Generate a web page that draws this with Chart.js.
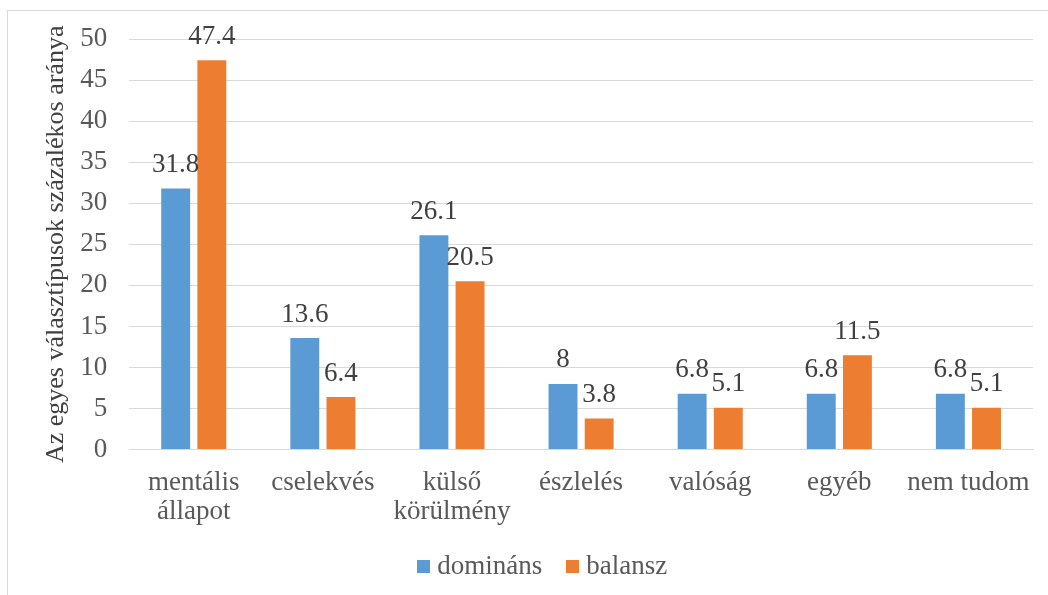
<!DOCTYPE html>
<html>
<head>
<meta charset="utf-8">
<script src="https://cdn.jsdelivr.net/npm/chart.js@4/dist/chart.umd.min.js"></script>
<style>
  html, body { margin: 0; padding: 0; background: #fff; }
  #wrap { position: relative; width: 1048px; height: 595px; }
  #frame { position: absolute; left: 7px; top: 10px; width: 1060px; height: 600px;
           border-left: 1px solid #d9d9d9; border-top: 1px solid #d9d9d9; }
  canvas { position: absolute; left: 0; top: 0; }
</style>
</head>
<body>
<div id="wrap">
  <div id="frame"></div>
  <canvas id="grafikon" width="1048" height="595"></canvas>
</div>
<script>
const kategoriak = [['mentális', 'állapot'], 'cselekvés', ['külső', 'körülmény'], 'észlelés', 'valóság', 'egyéb', 'nem tudom'];
const dominans = [31.8, 13.6, 26.1, 8, 6.8, 6.8, 6.8];
const balansz = [47.4, 6.4, 20.5, 3.8, 5.1, 11.5, 5.1];
const yTitle = 'Az egyes választípusok százalékos aránya';

const betu = '"Liberation Serif", "Times New Roman", serif';
Chart.defaults.color = '#595959';
Chart.defaults.font.family = betu;
Chart.defaults.font.size = 27;

// kis negyzet a jelmagyarazathoz
function negyzet(szin) {
    const c = document.createElement('canvas');
    c.width = 13;
    c.height = 13;
    const g = c.getContext('2d');
    g.fillStyle = szin;
    g.fillRect(0, 0, 13, 13);
    return c;
}

// ertekek kiirasa az oszlopok fole
const cimkek = {
    id: 'cimkek',
    afterLayout(chart) {
        chart.legend.left += 20;
    },
    afterDatasetsDraw(chart) {
        const ctx = chart.ctx;
        ctx.save();
        ctx.font = '27px ' + betu;
        ctx.fillStyle = '#404040';
        ctx.textAlign = 'center';
        ctx.textBaseline = 'bottom';
        chart.data.datasets.forEach((ds, i) => {
            chart.getDatasetMeta(i).data.forEach((bar, j) => {
                ctx.fillText(String(ds.data[j]), bar.x, bar.y - 10);
            });
        });
        ctx.restore();
    }
};

new Chart(document.getElementById('grafikon').getContext('2d'), {
    type: 'bar',
    data: {
        labels: kategoriak,
        datasets: [
            { label: 'domináns', data: dominans, backgroundColor: '#5b9bd5', pointStyle: negyzet('#5b9bd5') },
            { label: 'balansz', data: balansz, backgroundColor: '#ed7d31', pointStyle: negyzet('#ed7d31') }
        ]
    },
    options: {
        responsive: false,
        animation: false,
        categoryPercentage: 0.56,
        barPercentage: 0.8,
        layout: { padding: { left: 37, right: 15, top: 39, bottom: 5 } },
        plugins: {
            legend: {
                position: 'bottom',
                labels: {
                    usePointStyle: true,
                    pointStyleWidth: 1,
                    boxHeight: 13,
                    padding: 16,
                    color: '#595959',
                    generateLabels(chart) {
                        const items = Chart.defaults.plugins.legend.labels.generateLabels(chart);
                        items[0].text = items[0].text + '\u00a0\u00a0';
                        return items;
                    }
                }
            },
            tooltip: { enabled: false }
        },
        scales: {
            x: {
                grid: { display: false },
                border: { color: '#d9d9d9' },
                ticks: { color: '#595959', maxRotation: 0, autoSkip: false, padding: 10,
                         font: { size: 27, lineHeight: 1.1 } }
            },
            y: {
                min: 0,
                max: 50,
                afterFit(scale) { scale.width -= 18; },
                ticks: { stepSize: 5, color: '#595959', padding: 22 },
                grid: { color: '#d9d9d9', drawTicks: false },
                border: { display: false },
                title: { display: true, text: yTitle, color: '#404040', padding: 4, font: { size: 26 } }
            }
        }
    },
    plugins: [cimkek]
});
</script>
</body>
</html>
